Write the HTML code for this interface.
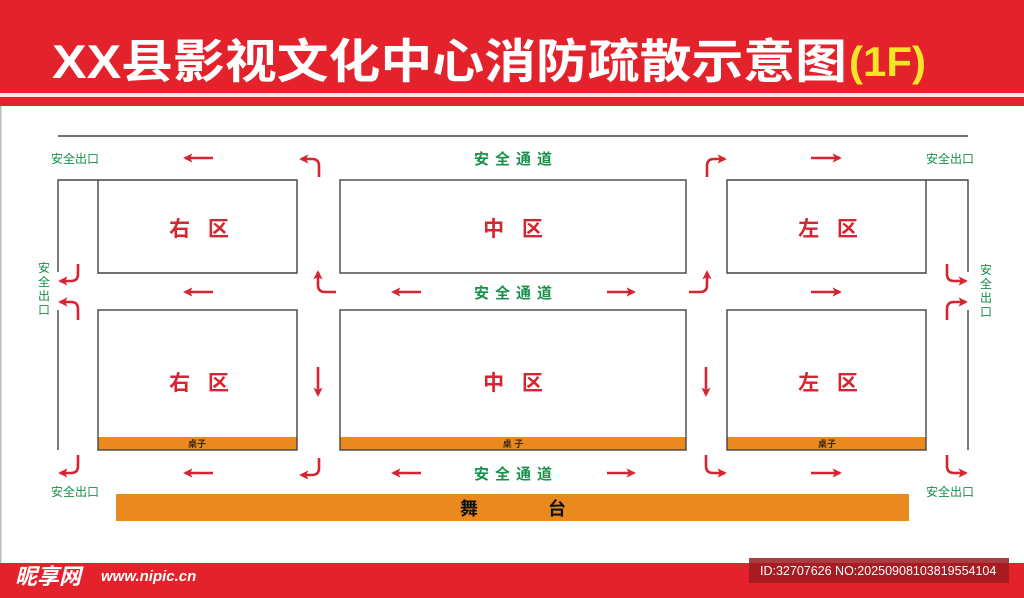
<!DOCTYPE html>
<html><head><meta charset="utf-8"><style>
html,body{margin:0;padding:0;background:#fff;}
body{width:1024px;height:598px;overflow:hidden;position:relative;}
svg{position:absolute;left:0;top:0;}
</style></head><body>
<svg width="1024" height="598" viewBox="0 0 1024 598" xmlns="http://www.w3.org/2000/svg">
<defs>
<marker id="ah" viewBox="0 0 10 10" refX="8" refY="5" markerWidth="3.6" markerHeight="3.6" orient="auto" markerUnits="strokeWidth">
<path d="M0,0 L10,5 L0,10 L2.5,5 Z" fill="#d42530"/></marker>
</defs>
<rect x="0" y="0" width="1024" height="93" fill="#e3222c"/>
<rect x="0" y="93" width="1024" height="4" fill="#fbe3e5"/>
<rect x="0" y="97" width="1024" height="9" fill="#e3222c"/>
<rect x="0" y="106" width="1.5" height="460" fill="#bbb"/>
<text x="52" y="78" font-family="Liberation Sans, Noto Sans CJK SC, sans-serif" font-weight="bold" font-size="47" fill="#fff" textLength="795" lengthAdjust="spacingAndGlyphs">XX县影视文化中心消防疏散示意图</text>
<text x="849" y="76" font-family="Liberation Sans, sans-serif" font-weight="bold" font-size="42" fill="#f5e52a">(1F)</text>

<g stroke="#444" stroke-width="1.4" fill="none">
<line x1="58" y1="136" x2="968" y2="136"/>
<polyline points="58,272 58,180 297,180 297,273 98,273 98,180"/>
<rect x="340" y="180" width="346" height="93"/>
<polyline points="968,272 968,180 727,180 727,273 926,273 926,180"/>
<line x1="58" y1="310" x2="58" y2="450"/>
<line x1="968" y1="310" x2="968" y2="450"/>
</g>
<g>
<rect x="98" y="437" width="199" height="13" fill="#ea891d"/>
<rect x="340" y="437" width="346" height="13" fill="#ea891d"/>
<rect x="727" y="437" width="199" height="13" fill="#ea891d"/>
</g>
<g stroke="#444" stroke-width="1.4" fill="none">
<rect x="98" y="310" width="199" height="140"/>
<rect x="340" y="310" width="346" height="140"/>
<rect x="727" y="310" width="199" height="140"/>
</g>
<rect x="116" y="494" width="793" height="27" fill="#ea891d"/>
<g font-family="Liberation Sans, Noto Sans CJK SC, sans-serif" font-weight="bold" font-size="18" fill="#111" text-anchor="middle">
<text x="469" y="515">舞</text><text x="557" y="515">台</text>
</g>
<g font-family="Liberation Sans, Noto Sans CJK SC, sans-serif" font-weight="bold" font-size="9" fill="#3a2a10" text-anchor="middle">
<text x="197" y="447">桌子</text><text x="513" y="447">桌 子</text><text x="827" y="447">桌子</text>
</g>
<g font-family="Liberation Sans, Noto Sans CJK SC, sans-serif" font-weight="bold" font-size="21" fill="#d42530" text-anchor="middle" letter-spacing="6">
<text x="202" y="236">右 区</text><text x="516" y="236">中 区</text><text x="831" y="236">左 区</text>
<text x="202" y="390">右 区</text><text x="516" y="390">中 区</text><text x="831" y="390">左 区</text>
</g>
<g font-family="Liberation Sans, Noto Sans CJK SC, sans-serif" font-weight="bold" font-size="15" fill="#17904a" text-anchor="middle" letter-spacing="6">
<text x="516" y="164">安全通道</text><text x="516" y="298">安全通道</text><text x="516" y="479">安全通道</text>
</g>
<g font-family="Liberation Sans, Noto Sans CJK SC, sans-serif" font-size="12" fill="#17904a" text-anchor="middle">
<text x="75" y="163">安全出口</text><text x="950" y="163">安全出口</text>
<text x="75" y="496">安全出口</text><text x="950" y="496">安全出口</text>
<text x="44" y="272">安</text><text x="44" y="286">全</text><text x="44" y="300">出</text><text x="44" y="314">口</text>
<text x="986" y="274">安</text><text x="986" y="288">全</text><text x="986" y="302">出</text><text x="986" y="316">口</text>
</g>
<g stroke="#d42530" stroke-width="2.6" fill="none" marker-end="url(#ah)">
<line x1="213" y1="158" x2="185" y2="158"/>
<line x1="213" y1="292" x2="185" y2="292"/>
<line x1="213" y1="473" x2="185" y2="473"/>
<line x1="421" y1="292" x2="393" y2="292"/>
<line x1="421" y1="473" x2="393" y2="473"/>
<line x1="607" y1="292" x2="634" y2="292"/>
<line x1="607" y1="473" x2="634" y2="473"/>
<line x1="811" y1="158" x2="840" y2="158"/>
<line x1="811" y1="292" x2="840" y2="292"/>
<line x1="811" y1="473" x2="840" y2="473"/>
<line x1="318" y1="367" x2="318" y2="395"/>
<line x1="706" y1="367" x2="706" y2="395"/>
<path d="M319,177 V166 Q319,159 312,159 H301"/>
<path d="M707,177 V166 Q707,159 714,159 H725"/>
<path d="M336,292 H325 Q318,292 318,285 V272"/>
<path d="M689,292 H700 Q707,292 707,285 V272"/>
<path d="M78,264 V274 Q78,281 71,281 H60"/>
<path d="M78,320 V309 Q78,302 71,302 H60"/>
<path d="M947,264 V274 Q947,281 954,281 H966"/>
<path d="M947,320 V309 Q947,302 954,302 H966"/>
<path d="M78,455 V466 Q78,473 71,473 H60"/>
<path d="M319,458 V468 Q319,475 312,475 H301"/>
<path d="M706,455 V466 Q706,473 713,473 H725"/>
<path d="M947,455 V466 Q947,473 954,473 H966"/>
</g>
<rect x="0" y="563" width="1024" height="35" fill="#e3222c"/>
<text x="15" y="584" font-family="Liberation Sans, Noto Sans CJK SC, sans-serif" font-weight="bold" font-style="italic" font-size="22" fill="#fff">昵享网</text>
<text x="101" y="581" font-family="Liberation Sans, sans-serif" font-weight="bold" font-style="italic" font-size="15" fill="#fff">www.nipic.cn</text>
<rect x="749" y="558" width="260" height="25" fill="#9c1a20" opacity="0.85"/>
<text x="760" y="575" font-family="Liberation Sans, sans-serif" font-size="12.5" fill="#fff">ID:32707626 NO:20250908103819554104</text>
</svg>
</body></html>
